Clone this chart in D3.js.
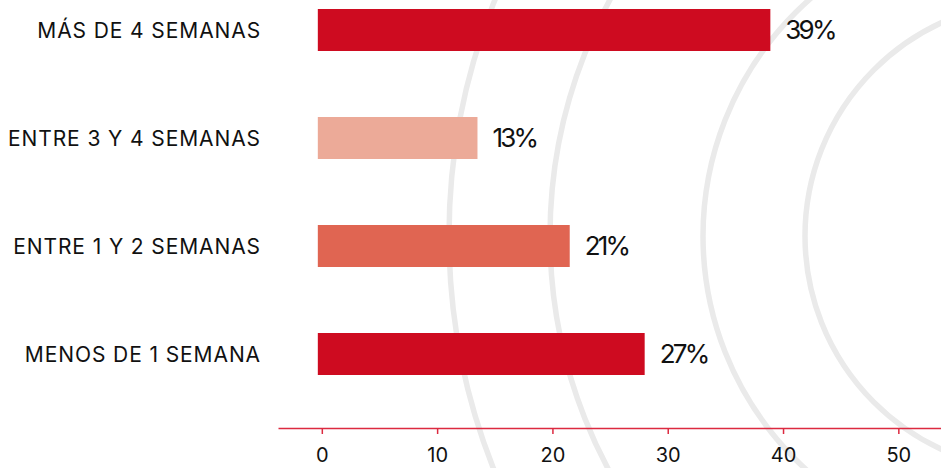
<!DOCTYPE html>
<html>
<head>
<meta charset="utf-8">
<script src="https://cdn.jsdelivr.net/npm/d3@7"></script>
<style>
  html, body { margin: 0; padding: 0; background: #ffffff; }
  svg { display: block; }
</style>
</head>
<body>
<svg id="chart" width="941" height="468"></svg>
<script>
// ---- data ----
const categories = ["MÁS DE 4 SEMANAS", "ENTRE 3 Y 4 SEMANAS", "ENTRE 1 Y 2 SEMANAS", "MENOS DE 1 SEMANA"];
const barValues = [38.9, 13.5, 21.5, 28.0];           // bar lengths read against the axis
const valueLabels = ["39%", "13%", "21%", "27%"];       // printed labels
const barColors = ["#CE0B20", "#ECAA98", "#E06552", "#CE0B20"];
const tickValues = [0, 10, 20, 30, 40, 50];
const ringCenters = [1079, 1045, 1019, 1040];           // decorative background rings (x of centre)
const ringRadii = [630, 495, 316, 235];

// ---- layout ----
const W = 941, H = 468;
const svg = d3.select("#chart");
const fontFamily = "Inter, 'Open Sans', sans-serif";

const x = d3.scaleLinear().domain([-3.8, 53.7]).range([278, W]);
const y = d3.scalePoint().domain(categories).range([30, 354]);
const barH = 42;

// background rings
const ringCy = 236;
svg.append("g").selectAll("circle").data(ringRadii).join("circle")
  .attr("cx", (d, i) => ringCenters[i]).attr("cy", ringCy).attr("r", d => d)
  .attr("fill", "none").attr("stroke", "#EAEAEA").attr("stroke-width", 5.5);

// bars
svg.append("g").selectAll("rect").data(categories).join("rect")
  .attr("x", x(0) - 4)
  .attr("y", d => y(d) - barH / 2)
  .attr("width", (d, i) => x(barValues[i]) - x(0) + 4)
  .attr("height", barH)
  .attr("fill", (d, i) => barColors[i]);

// value labels
svg.append("g").selectAll("text").data(categories).join("text")
  .attr("x", (d, i) => x(barValues[i]) + 15)
  .attr("y", d => y(d))
  .attr("dy", "0.36em")
  .attr("font-family", fontFamily)
  .attr("font-size", 26)
  .attr("letter-spacing", "-2.8px")
  .attr("fill", "#111")
  .text((d, i) => valueLabels[i]);

// category labels
svg.append("g").selectAll("text").data(categories).join("text")
  .attr("x", 261)
  .attr("y", d => y(d))
  .attr("dy", "0.36em")
  .attr("text-anchor", "end")
  .attr("font-family", fontFamily)
  .attr("font-size", 21)
  .attr("letter-spacing", "0.9px")
  .attr("fill", "#111")
  .text(d => d);

// x axis
const axisColor = "#DC2A40";
const gx = svg.append("g")
  .attr("transform", "translate(0,428)")
  .call(d3.axisBottom(x).tickValues(tickValues).tickSizeInner(6).tickSizeOuter(0).tickPadding(14));
gx.select(".domain").attr("stroke", axisColor).attr("stroke-width", 1.5);
gx.selectAll(".tick line").attr("stroke", axisColor).attr("stroke-width", 1.5);
gx.selectAll(".tick text")
  .attr("font-family", fontFamily)
  .attr("font-size", 20)
  .attr("fill", "#111");
</script>
</body>
</html>
